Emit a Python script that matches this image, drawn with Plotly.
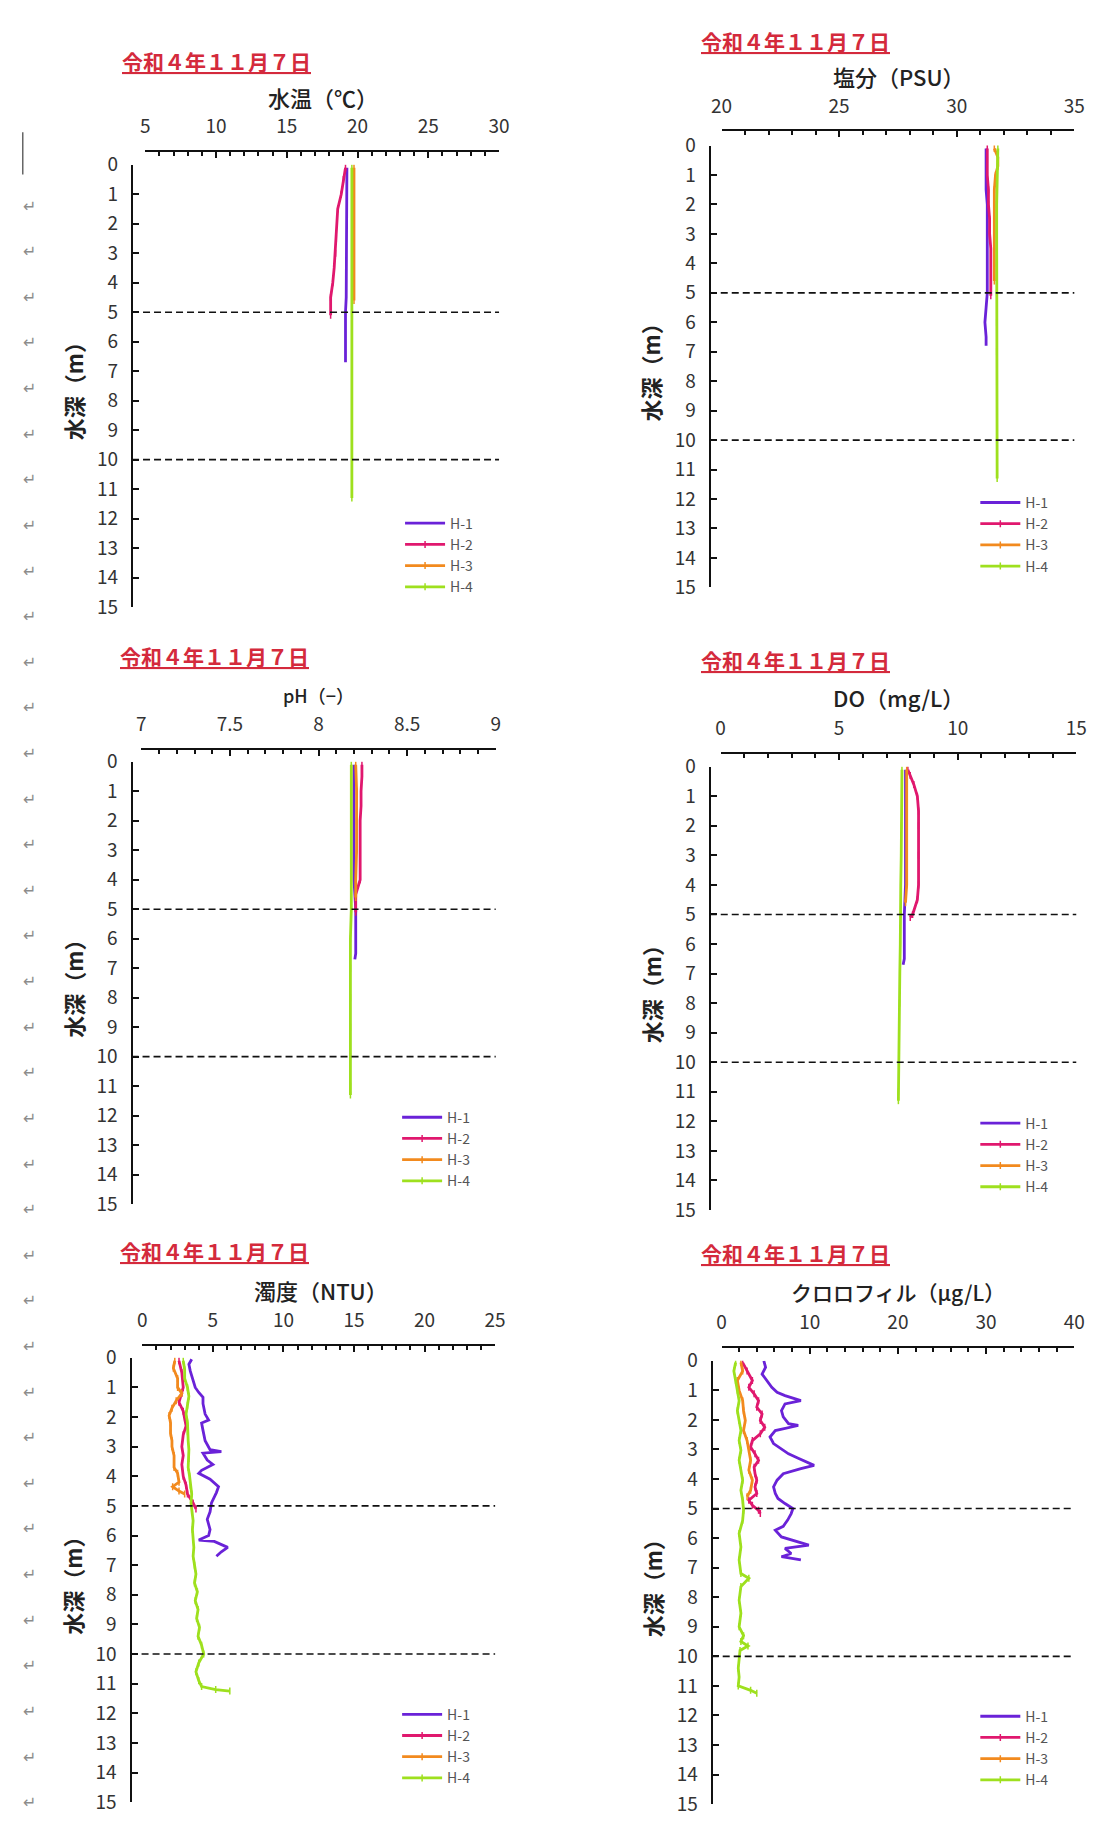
import plotly.graph_objects as go

W, H = 1100, 1823
FONT = "Noto Sans CJK JP"

STATIONS = ["H-1", "H-2", "H-3", "H-4"]
COLORS = ["#6a22d8", "#e0186e", "#f28a1e", "#9ee01e"]
DATE_LABEL = "令和４年１１月７日"
DEPTH_TITLE = "水深（m）"

# ---------------- 水温 (℃) ----------------
TEMP_D1 = [0.1, 0.5, 1.0, 1.5, 2.0, 2.5, 3.0, 3.5, 4.0, 4.5, 5.0, 5.5, 6.0, 6.5, 6.7]
TEMP_H1 = [19.25, 19.25, 19.2, 19.2, 19.2, 19.2, 19.2, 19.2, 19.2, 19.2, 19.15, 19.15, 19.1, 19.1, 19.15]
TEMP_D2 = [0.1, 0.5, 1.0, 1.5, 2.0, 2.5, 3.0, 3.5, 4.0, 4.5, 5.1]
TEMP_H2 = [19.15, 19.0, 18.85, 18.6, 18.55, 18.5, 18.45, 18.35, 18.25, 18.1, 18.1]
TEMP_D3 = [0.1, 1.0, 2.0, 3.0, 4.0, 4.6]
TEMP_H3 = [19.75, 19.75, 19.75, 19.75, 19.75, 19.75]
TEMP_D4 = [0.1, 1.0, 2.0, 3.0, 4.0, 5.0, 6.0, 7.0, 8.0, 9.0, 10.0, 11.0, 11.3]
TEMP_H4 = [19.6, 19.6, 19.6, 19.6, 19.6, 19.6, 19.6, 19.6, 19.6, 19.6, 19.6, 19.6, 19.6]

# ---------------- 塩分 (PSU) ----------------
SAL_D1 = [0.1, 0.5, 1.0, 1.5, 2.0, 2.5, 3.0, 3.5, 4.0, 4.5, 5.0, 5.5, 6.0, 6.5, 6.8]
SAL_H1 = [31.25, 31.25, 31.25, 31.25, 31.3, 31.3, 31.3, 31.3, 31.3, 31.3, 31.3, 31.25, 31.2, 31.25, 31.25]
SAL_D2 = [0.1, 0.5, 1.0, 1.5, 2.0, 2.5, 3.0, 3.5, 4.0, 4.5, 5.1]
SAL_H2 = [31.3, 31.3, 31.3, 31.35, 31.35, 31.4, 31.4, 31.45, 31.45, 31.45, 31.45]
SAL_D3 = [0.1, 0.4, 0.7, 1.0, 1.5, 2.0, 2.5, 3.0, 3.5, 4.0, 4.6]
SAL_H3 = [31.6, 31.75, 31.75, 31.65, 31.6, 31.6, 31.6, 31.6, 31.6, 31.6, 31.6]
SAL_D4 = [0.1, 1.0, 2.0, 3.0, 4.0, 5.0, 6.0, 7.0, 8.0, 9.0, 10.0, 11.0, 11.3]
SAL_H4 = [31.75, 31.72, 31.7, 31.7, 31.7, 31.7, 31.7, 31.7, 31.72, 31.72, 31.72, 31.72, 31.72]

# ---------------- pH (-) ----------------
PH_D1 = [0.1, 1.0, 2.0, 3.0, 4.0, 5.0, 5.5, 6.0, 6.5, 6.7]
PH_H1 = [8.2, 8.2, 8.2, 8.2, 8.2, 8.21, 8.21, 8.21, 8.21, 8.205]
PH_D2 = [0.1, 0.5, 1.0, 1.5, 2.0, 3.0, 4.0, 4.5, 5.1]
PH_H2 = [8.245, 8.245, 8.24, 8.24, 8.235, 8.235, 8.235, 8.21, 8.21]
PH_D3 = [0.1, 1.0, 2.0, 3.0, 4.0, 4.6]
PH_H3 = [8.21, 8.215, 8.215, 8.215, 8.21, 8.21]
PH_D4 = [0.1, 1.0, 2.0, 3.0, 4.0, 5.0, 6.0, 7.0, 8.0, 9.0, 10.0, 11.0, 11.3]
PH_H4 = [8.185, 8.185, 8.185, 8.185, 8.185, 8.185, 8.18, 8.18, 8.18, 8.18, 8.18, 8.18, 8.18]

# ---------------- DO (mg/L) ----------------
DO_D1 = [0.1, 1.0, 2.0, 3.0, 4.0, 5.0, 5.5, 6.0, 6.5, 6.7]
DO_H1 = [7.8, 7.8, 7.8, 7.8, 7.8, 7.75, 7.75, 7.75, 7.75, 7.7]
DO_D2 = [0.1, 0.3, 0.6, 1.0, 1.5, 2.0, 3.0, 4.0, 4.5, 5.0, 5.1]
DO_H2 = [7.9, 8.0, 8.15, 8.3, 8.35, 8.35, 8.35, 8.35, 8.3, 8.1, 8.0]
DO_D3 = [0.1, 1.0, 2.0, 3.0, 4.0, 4.6]
DO_H3 = [7.85, 7.85, 7.85, 7.85, 7.85, 7.8]
DO_D4 = [0.1, 1.0, 2.0, 3.0, 4.0, 5.0, 6.0, 7.0, 8.0, 9.0, 10.0, 11.0, 11.3]
DO_H4 = [7.65, 7.65, 7.63, 7.62, 7.6, 7.6, 7.58, 7.56, 7.55, 7.53, 7.52, 7.5, 7.5]

# ---------------- 濁度 (NTU) ----------------
NTU_D1 = [0.05, 0.22, 0.45, 0.8, 1.0, 1.17, 1.33, 1.55, 1.9, 2.1, 2.2, 2.45, 2.8, 3.1, 3.17,
          3.22, 3.45, 3.6, 3.8, 3.9, 4.1, 4.35, 4.55, 4.9, 5.2, 5.45, 5.8, 6.0, 6.15, 6.2,
          6.4, 6.55, 6.7]
NTU_H1 = [3.5, 3.3, 3.4, 3.6, 3.75, 4.0, 4.3, 4.3, 4.45, 4.7, 4.2, 4.3, 4.45, 4.8, 5.6,
          4.3, 4.6, 5.0, 4.2, 4.0, 4.8, 5.4, 5.25, 4.9, 4.8, 4.6, 4.8, 4.7, 4.0, 5.1,
          6.05, 5.6, 5.25]
NTU_D2 = [0.1, 0.5, 1.0, 1.2, 1.5, 1.8, 2.0, 2.3, 2.6, 3.0, 3.3, 3.6, 4.0, 4.3, 4.6, 4.9, 5.1]
NTU_H2 = [2.6, 2.8, 2.9, 2.8, 2.6, 2.9, 3.0, 3.1, 2.9, 2.8, 2.9, 2.8, 2.9, 3.1, 3.2, 3.6, 3.8]
NTU_D3 = [0.1, 0.35, 0.7, 1.0, 1.2, 1.45, 1.7, 1.95, 2.2, 2.55, 2.8, 3.0, 3.3, 3.7, 3.9,
          4.2, 4.35, 4.5, 4.6]
NTU_H3 = [2.3, 2.2, 2.5, 2.5, 2.8, 2.4, 2.1, 1.9, 2.0, 2.0, 2.1, 2.1, 2.25, 2.25, 2.5,
          2.6, 2.15, 2.6, 3.0]
NTU_D4 = [0.1, 0.4, 0.7, 1.0, 1.3, 1.6, 1.9, 2.2, 2.5, 2.8, 3.1, 3.4, 3.7, 4.0, 4.3, 4.6,
          4.9, 5.2, 5.5, 5.8, 6.1, 6.4, 6.7, 7.0, 7.3, 7.6, 7.9, 8.2, 8.5, 8.8, 9.1, 9.4,
          9.7, 10.0, 10.3, 10.6, 10.9, 11.1, 11.2, 11.25]
NTU_H4 = [2.9, 3.0, 3.0, 3.2, 3.3, 3.2, 3.1, 3.2, 3.2, 3.25, 3.3, 3.3, 3.25, 3.35, 3.4, 3.5,
          3.45, 3.5, 3.6, 3.55, 3.6, 3.65, 3.6, 3.7, 3.8, 3.7, 3.9, 3.75, 3.95, 3.85, 4.05, 3.95,
          4.2, 4.35, 4.0, 3.8, 4.0, 4.2, 5.2, 6.2]

# ---------------- クロロフィル (μg/L) ----------------
CHL_D1 = [0.0, 0.22, 0.45, 0.67, 0.9, 1.07, 1.18, 1.35, 1.46, 1.69, 1.9, 2.13, 2.19, 2.36,
          2.58, 2.8, 2.98, 3.15, 3.3, 3.54, 3.65, 3.82, 4.04, 4.27, 4.49, 4.66, 4.83, 5.0,
          5.17, 5.39, 5.6, 5.73, 5.96, 6.12, 6.24, 6.35, 6.52, 6.63, 6.74]
CHL_H1 = [4.8, 5.0, 4.6, 5.1, 5.7, 6.3, 7.2, 9.0, 7.2, 6.8, 7.0, 7.6, 8.7, 6.1,
          5.5, 5.9, 6.8, 7.6, 8.7, 10.5, 9.0, 7.0, 6.3, 5.9, 6.1, 6.4, 7.2, 8.1,
          7.9, 7.5, 7.0, 6.1, 6.8, 8.7, 9.9, 7.2, 7.9, 6.8, 9.0]
CHL_D2 = [0.06, 0.35, 0.67, 0.9, 1.12, 1.35, 1.57, 1.8, 2.02, 2.25, 2.47, 2.7, 2.92, 3.15,
          3.37, 3.6, 3.82, 4.04, 4.27, 4.49, 4.72, 4.89, 5.06, 5.17]
CHL_H2 = [2.4, 2.9, 3.5, 3.1, 3.7, 4.2, 4.0, 4.6, 4.4, 4.9, 4.4, 3.5, 3.3, 3.8,
          4.2, 3.7, 3.8, 4.0, 3.8, 4.0, 3.1, 3.5, 4.2, 4.4]
CHL_D3 = [0.06, 0.35, 0.67, 1.0, 1.35, 1.69, 2.02, 2.36, 2.7, 3.03, 3.37, 3.7, 4.04, 4.38, 4.6]
CHL_H3 = [2.2, 2.4, 1.8, 2.0, 2.4, 2.5, 2.7, 2.5, 2.9, 3.1, 3.3, 3.1, 3.5, 3.3, 2.9]
CHL_D4 = [0.06, 0.35, 0.67, 1.0, 1.35, 1.69, 2.02, 2.36, 2.7, 3.03, 3.37, 3.7, 4.04, 4.38,
          4.72, 5.06, 5.4, 5.84, 6.3, 6.74, 7.2, 7.36, 7.64, 8.1, 8.54, 9.0, 9.3, 9.5,
          9.65, 9.8, 10.1, 10.4, 10.7, 11.0, 11.15, 11.25]
CHL_H4 = [1.6, 1.4, 1.6, 1.8, 2.0, 1.8, 2.0, 2.2, 2.0, 2.2, 2.0, 2.2, 2.4, 2.2,
          2.4, 2.5, 2.4, 2.0, 2.2, 2.0, 2.2, 3.1, 2.2, 2.0, 2.2, 2.0, 2.5, 2.2,
          3.0, 2.1, 2.0, 1.9, 2.0, 1.9, 3.3, 4.0]

# panel layout (pixel geometry of each profile chart)
panels = [
    dict(title="水温（℃）", tsize=22, rng=(5, 30), dtick=5, minor=1,
         px=(137, 498), axis_y=138, yaxis_x=123.5, y0=152, y15=601,
         date=(210, 47), xtitle=(318, 83), legend=(397, 500),
         series=[(TEMP_D1, TEMP_H1), (TEMP_D2, TEMP_H2), (TEMP_D3, TEMP_H3), (TEMP_D4, TEMP_H4)]),
    dict(title="塩分（PSU）", tsize=22, rng=(20, 35), dtick=5, minor=1,
         px=(725, 1085), axis_y=117, yaxis_x=713, y0=132.5, y15=581,
         date=(801, 26), xtitle=(906, 62), legend=(984, 479),
         series=[(SAL_D1, SAL_H1), (SAL_D2, SAL_H2), (SAL_D3, SAL_H3), (SAL_D4, SAL_H4)]),
    dict(title="pH（−）", tsize=18, rng=(7, 9), dtick=0.5, minor=0.1,
         px=(133, 494.6), axis_y=745, yaxis_x=123, y0=758, y15=1207,
         date=(208, 651), xtitle=(314, 690), legend=(394, 1103),
         series=[(PH_D1, PH_H1), (PH_D2, PH_H2), (PH_D3, PH_H3), (PH_D4, PH_H4)]),
    dict(title="DO（mg/L）", tsize=22, rng=(0, 15), dtick=5, minor=1,
         px=(724, 1087), axis_y=749, yaxis_x=713, y0=763, y15=1213,
         date=(801, 655), xtitle=(906, 692), legend=(984, 1109),
         series=[(DO_D1, DO_H1), (DO_D2, DO_H2), (DO_D3, DO_H3), (DO_D4, DO_H4)]),
    dict(title="濁度（NTU）", tsize=22, rng=(0, 25), dtick=5, minor=1,
         px=(134, 494), axis_y=1350, yaxis_x=122, y0=1363, y15=1814,
         date=(208, 1255), xtitle=(316, 1294), legend=(394, 1709),
         series=[(NTU_D1, NTU_H1), (NTU_D2, NTU_H2), (NTU_D3, NTU_H3), (NTU_D4, NTU_H4)]),
    dict(title="クロロフィル（μg/L）", tsize=21, rng=(0, 40), dtick=10, minor=2,
         px=(725, 1085), axis_y=1352, yaxis_x=715, y0=1366, y15=1816,
         date=(801, 1257), xtitle=(905, 1296), legend=(984, 1711),
         series=[(CHL_D1, CHL_H1), (CHL_D2, CHL_H2), (CHL_D3, CHL_H3), (CHL_D4, CHL_H4)]),
]

fig = go.Figure()
layout = dict(
    width=W, height=H,
    margin=dict(l=0, r=0, t=0, b=0),
    paper_bgcolor="white", plot_bgcolor="rgba(0,0,0,0)",
    font=dict(family=FONT, color="#222"),
    showlegend=True,
)
shapes = []
annotations = []

for i, p in enumerate(panels, start=1):
    sx = "" if i == 1 else str(i)
    xref, yref = "x" + sx, "y" + sx
    leg = "legend" + sx

    for k, (depth, vals) in enumerate(p["series"]):
        fig.add_trace(go.Scatter(
            x=vals, y=depth, mode="lines+markers" if k > 0 else "lines",
            name=STATIONS[k], line=dict(color=COLORS[k], width=2.8),
            marker=dict(symbol="line-ns", size=5, line=dict(width=1.5, color=COLORS[k])),
            xaxis=xref, yaxis=yref, legend=leg, legendgroup=f"{i}-{k}",
            hoverinfo="skip",
        ))

    x0, x1 = p["px"]
    layout["xaxis" + sx] = dict(
        domain=[x0 / W, x1 / W], range=list(p["rng"]), side="top",
        anchor="free", position=1 - p["axis_y"] / H,
        showline=True, linecolor="#111", linewidth=2,
        ticks="inside", ticklen=6, tickwidth=1.6, tickcolor="#111",
        dtick=p["dtick"], tick0=p["rng"][0],
        minor=dict(ticks="inside", ticklen=4, tickwidth=1.6, tickcolor="#111", dtick=p["minor"]),
        tickfont=dict(family=FONT, size=19, color="#333"),
        ticklabelstandoff=9,
        showgrid=False, zeroline=False, fixedrange=True,
    )
    layout["yaxis" + sx] = dict(
        domain=[1 - p["y15"] / H, 1 - p["y0"] / H], range=[15, 0],
        anchor="free", position=p["yaxis_x"] / W,
        showline=True, linecolor="#111", linewidth=2.2,
        ticks="inside", ticklen=6, tickwidth=1.6, tickcolor="#111",
        dtick=1, tick0=0,
        tickfont=dict(family=FONT, size=19, color="#333"),
        ticklabelstandoff=9,
        showgrid=False, zeroline=False, fixedrange=True,
    )
    layout[leg] = dict(
        x=p["legend"][0] / W, y=1 - p["legend"][1] / H,
        xanchor="left", yanchor="top", bgcolor="rgba(0,0,0,0)",
        font=dict(family=FONT, size=14, color="#555"),
        itemwidth=40, tracegroupgap=1, traceorder="normal",
    )

    # reference depths 5 m and 10 m
    for d in (5, 10):
        shapes.append(dict(type="line", xref="paper", yref=yref,
                           x0=p["yaxis_x"] / W, x1=x1 / W, y0=d, y1=d,
                           line=dict(color="#111", width=1.6, dash="7px,4px")))

    # survey date, underlined in red
    annotations.append(dict(
        text=f"<b>{DATE_LABEL}</b>", xref="paper", yref="paper",
        x=p["date"][0] / W, y=1 - p["date"][1] / H,
        xanchor="center", yanchor="middle", showarrow=False,
        font=dict(family=FONT, size=21, color="#d42a3c", lineposition="under"),
    ))
    # parameter name above the top axis
    annotations.append(dict(
        text=p["title"], xref="paper", yref="paper",
        x=p["xtitle"][0] / W, y=1 - p["xtitle"][1] / H,
        xanchor="center", yanchor="middle", showarrow=False,
        font=dict(family=FONT, size=p["tsize"], color="#222", weight=500),
    ))
    # depth axis title
    annotations.append(dict(
        text=f"<b>{DEPTH_TITLE}</b>", xref="paper", yref="paper", textangle=-90,
        x=(p["yaxis_x"] - 60) / W, y=1 - (p["y0"] + p["y15"]) / 2 / H,
        xanchor="center", yanchor="middle", showarrow=False,
        font=dict(family=FONT, size=22, color="#222"),
    ))

# paragraph marks in the page's left margin
mark_y = 194.0
while mark_y < H:
    annotations.append(dict(
        text="↵", xref="paper", yref="paper", x=19 / W, y=1 - mark_y / H,
        xanchor="center", yanchor="middle", showarrow=False,
        font=dict(family="DejaVu Sans", size=16, color="#8c8c8c"),
    ))
    mark_y += 46.3

# text cursor bar at the top of the margin
shapes.append(dict(type="line", xref="paper", yref="paper",
                   x0=12 / W, x1=12 / W, y0=1 - 119 / H, y1=1 - 162 / H,
                   line=dict(color="#666", width=1.5)))

layout["shapes"] = shapes
layout["annotations"] = annotations
fig.update_layout(**layout)

# the page body should not add its default offset around the figure
fig.write_html(
    "out.html",
    post_script="document.body.style.margin='0';document.body.style.padding='0';",
)
